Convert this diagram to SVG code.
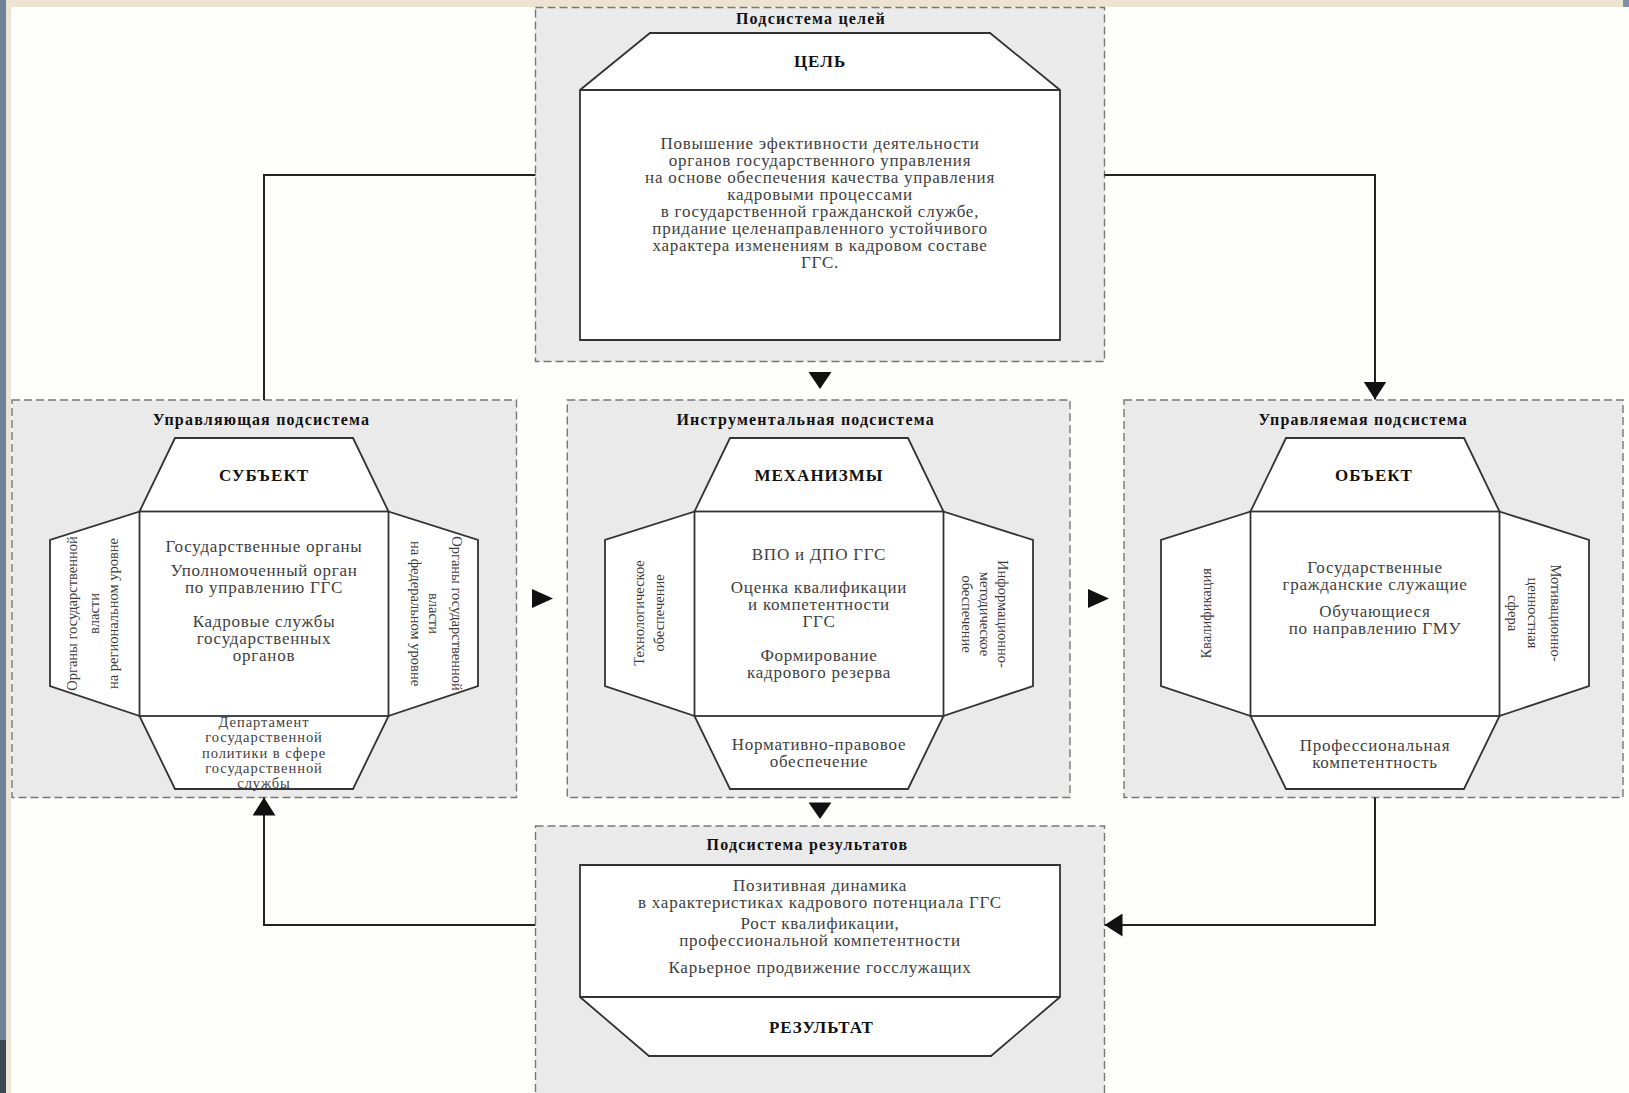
<svg xmlns="http://www.w3.org/2000/svg" width="1629" height="1093" viewBox="0 0 1629 1093">
<style>
.sub{fill:#eaeaea;stroke:#777777;stroke-width:1.4;stroke-dasharray:8 4}
.shape{fill:#ffffff;stroke:#333333;stroke-width:1.8;stroke-linejoin:miter}
.sep{fill:none;stroke:#333333;stroke-width:1.8}
text{font-family:"Liberation Serif","Times New Roman",serif;text-anchor:middle}
.t{fill:#404040;font-size:17px;letter-spacing:0.75px}
.s{font-size:14.5px;letter-spacing:0.95px}
.h{fill:#111111;font-size:17px;font-weight:bold;letter-spacing:1px}
.st{fill:#111111;font-size:16px;font-weight:bold;letter-spacing:1.2px}
.v{fill:#3a3a3a;font-size:14.5px}
.conn{fill:none;stroke:#222222;stroke-width:2}
.arr{fill:#111111}
</style>
<defs>
<marker id="ah" viewBox="0 0 18 23" refX="18" refY="11.5" markerWidth="18" markerHeight="23" markerUnits="userSpaceOnUse" orient="auto">
<path d="M0 0 L18 11.5 L0 23 Z" fill="#111111"/>
</marker>
</defs>
<rect x="0" y="0" width="1629" height="1093" fill="#fefefa"/>
<rect x="0" y="0" width="1629" height="7" fill="#ece3d3"/>
<rect x="0" y="0" width="11" height="1093" fill="#eee4d5"/>
<rect x="0" y="0" width="6" height="1093" fill="#6f8297"/>
<rect x="0" y="1040" width="6" height="53" fill="#3c4650"/>
<rect x="1623" y="0" width="6" height="7" fill="#7d90a6"/>

<g id="goal-subsystem">
<rect class="sub" x="535.5" y="7.5" width="569" height="354"/>
<text class="st" x="811" y="24">Подсистема целей</text>
<path class="shape" d="M650 33 H990 L1060 90 V340 H580 V90 Z"/>
<path class="sep" d="M580 90 H1060"/>
<text class="h" x="820" y="67">ЦЕЛЬ</text>
<text class="t" x="820" y="149">Повышение эфективности деятельности</text>
<text class="t" x="820" y="166">органов государственного управления</text>
<text class="t" x="820" y="183">на основе обеспечения  качества управления</text>
<text class="t" x="820" y="200">кадровыми процессами</text>
<text class="t" x="820" y="217">в государственной гражданской службе,</text>
<text class="t" x="820" y="234">придание целенаправленного устойчивого</text>
<text class="t" x="820" y="251">характера изменениям в кадровом составе</text>
<text class="t" x="820" y="268">ГГС.</text>
</g>

<g id="managing-subsystem">
<rect class="sub" x="12" y="400" width="504.5" height="397.5"/>
<text class="st" x="261.5" y="424.5">Управляющая подсистема</text>
<path class="shape" d="M175 438 H353 L388.5 511.5 L478 540 V686 L388.5 716 L353 789 H175 L139.5 716 L50 686 V540 L139.5 511.5 Z"/>
<rect class="sep" x="139.5" y="511.5" width="249" height="204.5"/>
<text class="h" x="264" y="480.5">СУБЪЕКТ</text>
<text class="t" x="264" y="551.7">Государственные органы</text>
<text class="t" x="264" y="575.5">Уполномоченный орган</text>
<text class="t" x="264" y="592.5">по управлению ГГС</text>
<text class="t" x="264" y="627">Кадровые службы</text>
<text class="t" x="264" y="644">государственных</text>
<text class="t" x="264" y="661">органов</text>
<text class="t s" x="264" y="726.5">Департамент</text>
<text class="t s" x="264" y="742">государственной</text>
<text class="t s" x="264" y="757.5">политики в сфере</text>
<text class="t s" x="264" y="773">государственной</text>
<text class="t s" x="264" y="788">службы</text>
<text class="v" transform="translate(72.7 613.5) rotate(-90)" y="4.5">Органы государственной</text>
<text class="v" transform="translate(94.6 613.5) rotate(-90)" y="4.5">власти</text>
<text class="v" transform="translate(113.2 613.5) rotate(-90)" y="4.5">на региональном уровне</text>
<text class="v" transform="translate(456.3 613.5) rotate(90)" y="4.5">Органы государственной</text>
<text class="v" transform="translate(433.7 613.5) rotate(90)" y="4.5">власти</text>
<text class="v" transform="translate(415.7 613.5) rotate(90)" y="4.5">на федеральном уровне</text>
</g>

<g id="instrumental-subsystem">
<rect class="sub" x="567.3" y="400" width="502.7" height="397.5"/>
<text class="st" x="805.7" y="424.5">Инструментальная подсистема</text>
<path class="shape" d="M730 438 H908 L943.5 511.5 L1033 540 V686 L943.5 716 L908 789 H730 L694.5 716 L605 686 V540 L694.5 511.5 Z"/>
<rect class="sep" x="694.5" y="511.5" width="249" height="204.5"/>
<text class="h" x="819" y="480.5">МЕХАНИЗМЫ</text>
<text class="t" x="819" y="559.5">ВПО и ДПО ГГС</text>
<text class="t" x="819" y="593">Оценка квалификации</text>
<text class="t" x="819" y="610">и компетентности</text>
<text class="t" x="819" y="627">ГГС</text>
<text class="t" x="819" y="660.5">Формирование</text>
<text class="t" x="819" y="677.5">кадрового резерва</text>
<text class="t" x="819" y="750">Нормативно-правовое</text>
<text class="t" x="819" y="767">обеспечение</text>
<text class="v" transform="translate(639.6 613) rotate(-90)" y="4.5">Технологическое</text>
<text class="v" transform="translate(659.5 613) rotate(-90)" y="4.5">обеспечение</text>
<text class="v" transform="translate(1002.7 614) rotate(90)" y="4.5">Информационно-</text>
<text class="v" transform="translate(984.4 614) rotate(90)" y="4.5">методическое</text>
<text class="v" transform="translate(966.2 614) rotate(90)" y="4.5">обеспечение</text>
</g>

<g id="managed-subsystem">
<rect class="sub" x="1124" y="400" width="499" height="397.5"/>
<text class="st" x="1363.2" y="424.5">Управляемая подсистема</text>
<path class="shape" d="M1286 438 H1464 L1499.5 511.5 L1589 540 V686 L1499.5 716 L1464 789 H1286 L1250.5 716 L1161 686 V540 L1250.5 511.5 Z"/>
<rect class="sep" x="1250.5" y="511.5" width="249" height="204.5"/>
<text class="h" x="1374" y="480.5">ОБЪЕКТ</text>
<text class="t" x="1375" y="573">Государственные</text>
<text class="t" x="1375" y="590">гражданские служащие</text>
<text class="t" x="1375" y="617">Обучающиеся</text>
<text class="t" x="1375" y="634">по направлению ГМУ</text>
<text class="t" x="1375" y="750.5">Профессиональная</text>
<text class="t" x="1375" y="767.5">компетентность</text>
<text class="v" transform="translate(1206 613.3) rotate(-90)" y="4.5">Квалификация</text>
<text class="v" transform="translate(1555.2 613) rotate(90)" y="4.5">Мотивационно-</text>
<text class="v" transform="translate(1532 613) rotate(90)" y="4.5">ценностная</text>
<text class="v" transform="translate(1512.2 613) rotate(90)" y="4.5">сфера</text>
</g>

<g id="results-subsystem">
<rect class="sub" x="535.5" y="826" width="569" height="290"/>
<text class="st" x="807.4" y="850">Подсистема результатов</text>
<path class="shape" d="M580 865 H1060 V997 L991 1056 H649 L580 997 Z"/>
<path class="sep" d="M580 997 H1060"/>
<text class="t" x="820" y="890.5">Позитивная динамика</text>
<text class="t" x="820" y="907.5">в характеристиках кадрового потенциала ГГС</text>
<text class="t" x="820" y="929">Рост квалификации,</text>
<text class="t" x="820" y="946">профессиональной компетентности</text>
<text class="t" x="820" y="972.7">Карьерное продвижение госслужащих</text>
<text class="h" x="821.4" y="1032.8">РЕЗУЛЬТАТ</text>
</g>

<g id="connectors">
<path class="conn" d="M535.5 175 H264 V400"/>
<path class="conn" d="M1104.5 175 H1375 V399.5" marker-end="url(#ah)"/>
<path class="conn" d="M1375 797.5 V925 H1104.5" marker-end="url(#ah)"/>
<path class="conn" d="M535.5 925 H264 V797.5" marker-end="url(#ah)"/>
<path class="arr" d="M808.5 372 H831.5 L820 389 Z"/>
<path class="arr" d="M808.5 802.5 H831.5 L820 819 Z"/>
<path class="arr" d="M532 589 L553 598.5 L532 608 Z"/>
<path class="arr" d="M1088 589 L1109 598.5 L1088 608 Z"/>
</g>
</svg>
